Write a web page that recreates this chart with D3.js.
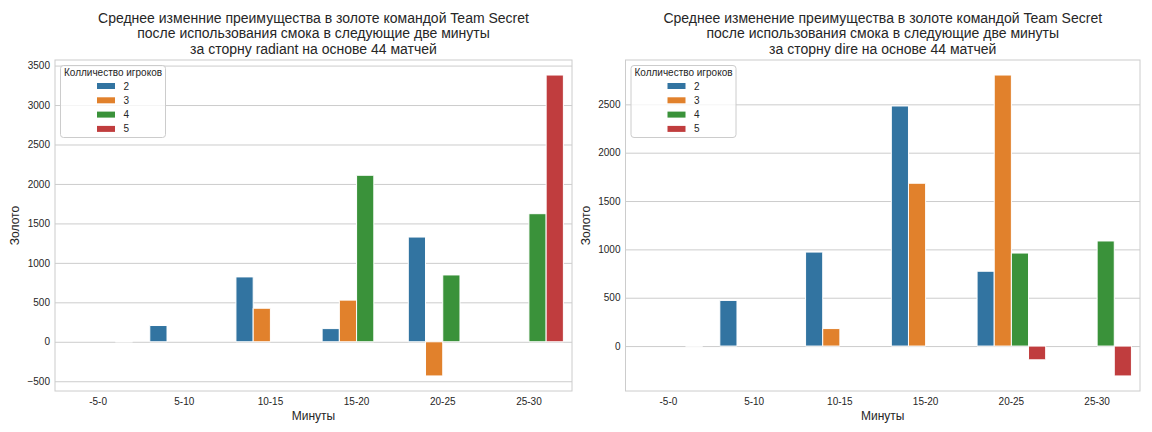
<!DOCTYPE html>
<html>
<head>
<meta charset="utf-8">
<script src="https://cdn.jsdelivr.net/npm/d3@7"></script>
<style>
    body { margin: 0; background: #fff; }
    svg { font-family: "Liberation Sans", Arial, sans-serif; }
    .tick text { fill: #262626; font-size: 10px; }
    .grid line { stroke: #cccccc; stroke-width: 1; }
    .grid .domain { display: none; }
    .frame { fill: none; stroke: #cccccc; stroke-width: 1; }
    .bar { stroke: #fff; stroke-width: 1; }
    .chartTitle { font-size: 14px; fill: #262626; text-anchor: middle; }
    .axisLabel { font-size: 12px; fill: #262626; text-anchor: middle; }
    .legendBox { fill: #fff; fill-opacity: 0.8; stroke: #cccccc; stroke-width: 1; }
    .legendText { font-size: 10px; fill: #262626; }
</style>
</head>
<body>
<svg id="chart" width="1152" height="432"></svg>
<script>
var minutes = ["-5-0", "5-10", "10-15", "15-20", "20-25", "25-30"];
var playerCounts = ["2", "3", "4", "5"];
var colors = ["#3274a1", "#e1812c", "#3a923a", "#c03d3e"];

// radiant side, one array per number of players (null = no bar)
var radiant2 = [null, 206, 822, 167, 1327, null];
var radiant3 = [null, null, 425, 528, -433, null];
var radiant4 = [null, null, null, 2110, 847, 1623];
var radiant5 = [0, null, null, null, null, 3380];

// dire side
var dire2 = [null, 472, 972, 2483, 774, null];
var dire3 = [null, null, 181, 1684, 2803, null];
var dire4 = [null, null, null, null, 962, 1087];
var dire5 = [0, null, null, null, -142, -309];

var radiantTicks = [-500, 0, 500, 1000, 1500, 2000, 2500, 3000, 3500];
var direTicks = [0, 500, 1000, 1500, 2000, 2500];

var radiantTitle = ["Среднее изменние преимущества в золоте командой Team Secret",
    "после использования смока в следующие две минуты",
    "за сторну radiant на основе 44 матчей"];
var direTitle = ["Среднее изменение преимущества в золоте командой Team Secret",
    "после использования смока в следующие две минуты",
    "за сторну dire на основе 44 матчей"];

/**
 * Constructor for one grouped bar chart
 */
function GoldChart(svg, box, title, series, ticks){
    var self = this;
    self.svg = svg;
    self.box = box;
    self.title = title;
    self.series = series;
    self.ticks = ticks;
    self.init();
}

GoldChart.prototype.init = function(){
    var self = this;
    var b = self.box;
    self.width = b.right - b.left;
    self.height = b.bottom - b.top;
    self.g = self.svg.append("g").attr("transform", "translate(" + b.left + "," + b.top + ")");

    // flat list of bars
    self.bars = [];
    self.series.forEach(function(values, h){
        values.forEach(function(v, i){
            if (v !== null) self.bars.push({minute: minutes[i], hue: playerCounts[h], value: v, color: colors[h]});
        });
    });

    //matplotlib style 5% margin around the data
    var ext = d3.extent(self.bars, d => d.value);
    var pad = (ext[1] - ext[0]) * 0.05;
    self.y = d3.scaleLinear().domain([ext[0] - pad, ext[1] + pad]).range([self.height, 0]);
    self.x = d3.scaleBand().domain(minutes).range([0, self.width]).padding(0);
    var bw = self.x.bandwidth();
    self.xHue = d3.scaleBand().domain(playerCounts).range([bw * 0.1, bw * 0.9]).padding(0);
};

GoldChart.prototype.update = function(){
    var self = this;
    var g = self.g;

    //gridlines
    g.append("g").attr("class", "grid")
        .call(d3.axisLeft(self.y).tickValues(self.ticks).tickSize(-self.width).tickFormat(""));

    //bars as paths so a zero value still leaves its white edge
    g.selectAll("path.bar").data(self.bars)
        .enter().append("path")
        .attr("class", "bar")
        .attr("fill", d => d.color)
        .attr("d", function(d){
            var x0 = self.x(d.minute) + self.xHue(d.hue);
            var w = self.xHue.bandwidth();
            var y0 = self.y(0), y1 = self.y(d.value);
            return "M" + x0 + "," + y0 + "H" + (x0 + w) + "V" + y1 + "H" + x0 + "Z";
        });

    g.append("rect").attr("class", "frame")
        .attr("width", self.width).attr("height", self.height);

    //tick labels
    var yAxis = g.append("g")
        .call(d3.axisLeft(self.y).tickValues(self.ticks).tickFormat(d3.format("d")).tickSize(0).tickPadding(5));
    yAxis.select(".domain").remove();

    var xAxis = g.append("g").attr("transform", "translate(0," + self.height + ")")
        .call(d3.axisBottom(self.x).tickSize(0).tickPadding(7));
    xAxis.select(".domain").remove();

    //axis labels
    g.append("text").attr("class", "axisLabel")
        .attr("x", self.width / 2).attr("y", self.height + 28.5)
        .text("Минуты");
    g.append("text").attr("class", "axisLabel")
        .attr("transform", "translate(" + self.box.yLabelX + "," + (self.height / 2) + ") rotate(-90)")
        .attr("dy", "0.35em")
        .text("Золото");

    //title
    g.selectAll("text.chartTitle").data(self.title)
        .enter().append("text")
        .attr("class", "chartTitle")
        .attr("x", self.width / 2)
        .attr("y", (d, i) => -37.5 + i * 15.5)
        .text(d => d);

    //legend
    var legend = g.append("g").attr("transform", "translate(5.5,5.5)");
    legend.append("rect").attr("class", "legendBox")
        .attr("width", 105).attr("height", 72).attr("rx", 3);
    legend.append("text").attr("class", "legendText")
        .attr("x", 52.5).attr("y", 10).attr("text-anchor", "middle")
        .text("Колличество игроков");
    var rows = legend.selectAll("g.row").data(playerCounts)
        .enter().append("g")
        .attr("transform", (d, i) => "translate(0," + (20.5 + i * 14.3) + ")");
    rows.append("rect")
        .attr("x", 36.5).attr("y", -3).attr("width", 18).attr("height", 6)
        .attr("fill", (d, i) => colors[i]);
    rows.append("text").attr("class", "legendText")
        .attr("x", 63).attr("dy", "0.35em")
        .text(d => d);
};

var svg = d3.select("#chart");
var left = new GoldChart(svg, {left: 55, right: 572, top: 60, bottom: 391, yLabelX: -40},
    radiantTitle, [radiant2, radiant3, radiant4, radiant5], radiantTicks);
left.update();
var right = new GoldChart(svg, {left: 625.5, right: 1140, top: 60, bottom: 391, yLabelX: -39.5},
    direTitle, [dire2, dire3, dire4, dire5], direTicks);
right.update();
</script>
</body>
</html>
